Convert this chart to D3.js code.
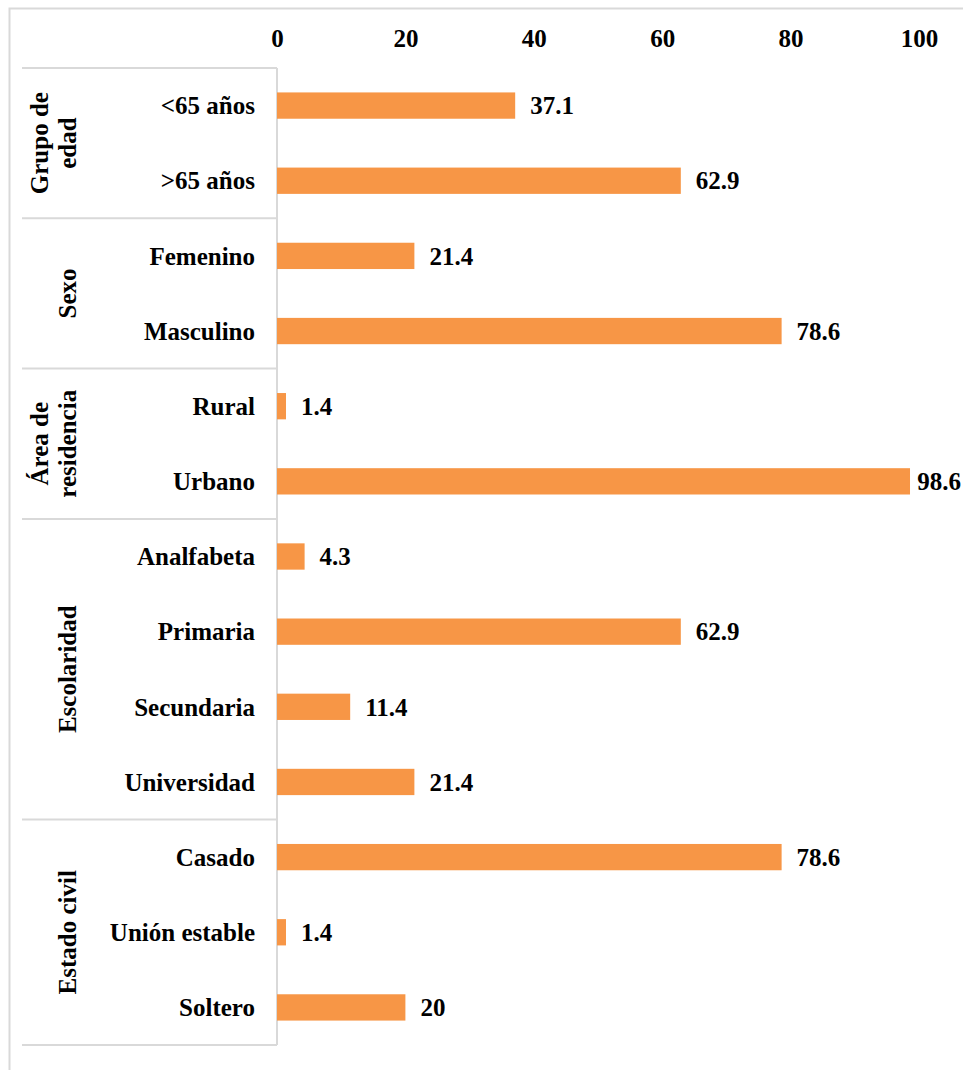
<!DOCTYPE html>
<html>
<head>
<meta charset="utf-8">
<script src="https://cdn.jsdelivr.net/npm/d3@7"></script>
<style>
  html, body { margin: 0; padding: 0; background: #fff; }
  svg { display: block; }
  text { font-family: "Liberation Serif", "Times New Roman", serif; font-weight: bold; fill: #000; }
</style>
</head>
<body>
<svg id="chart" width="966" height="1070"></svg>
<script>
// ---- data ----
const categories = ["<65 años", ">65 años", "Femenino", "Masculino", "Rural", "Urbano",
  "Analfabeta", "Primaria", "Secundaria", "Universidad", "Casado", "Unión estable", "Soltero"];
const values = [37.1, 62.9, 21.4, 78.6, 1.4, 98.6, 4.3, 62.9, 11.4, 21.4, 78.6, 1.4, 20];
const groupLabels = [["Grupo de", "edad"], ["Sexo"], ["Área de", "residencia"], ["Escolaridad"], ["Estado civil"]];
const groupSizes = [2, 2, 2, 4, 3];
const xTicks = [0, 20, 40, 60, 80, 100];

// ---- layout ----
const W = 966, H = 1070;
const plotLeft = 277, plotRight = 919, plotTop = 68, plotBottom = 1045;
const sepLeft = 22;
const gridColor = "#d9d9d9";
const barColor = "#F79646";
const fontSize = 25;

const svg = d3.select("#chart");

const x = d3.scaleLinear().domain([0, 100]).range([plotLeft, plotRight]);
const y = d3.scaleBand().domain(categories).range([plotTop, plotBottom])
  .paddingInner(0.65).paddingOuter(0.325);
const step = y.step();

// outer frame (cropped)
svg.append("path")
  .attr("d", `M9.5,1070 V8.5 H963`)
  .attr("fill", "none").attr("stroke", gridColor).attr("stroke-width", 2);

// group separators
let starts = [0];
groupSizes.forEach((s, i) => starts.push(starts[i] + s));
const boundaryY = starts.map(k => plotTop + k * step);
svg.append("g").selectAll("line").data(boundaryY).join("line")
  .attr("x1", sepLeft).attr("x2", plotLeft)
  .attr("y1", d => d).attr("y2", d => d)
  .attr("stroke", gridColor).attr("stroke-width", 2);

// vertical axis line
svg.append("line")
  .attr("x1", plotLeft).attr("x2", plotLeft)
  .attr("y1", plotTop).attr("y2", plotBottom)
  .attr("stroke", gridColor).attr("stroke-width", 2);

// top axis
const axis = d3.axisTop(x).tickValues(xTicks).tickSize(0).tickPadding(21);
const gAxis = svg.append("g").attr("transform", `translate(0,${plotTop})`).call(axis);
gAxis.select(".domain").remove();
gAxis.selectAll("text")
  .style("font-family", '"Liberation Serif", serif')
  .style("font-weight", "bold")
  .style("font-size", fontSize + "px")
  .attr("fill", "#000");

// bars
svg.append("g").selectAll("rect").data(categories).join("rect")
  .attr("x", x(0))
  .attr("y", d => y(d))
  .attr("width", (d, i) => x(values[i]) - x(0))
  .attr("height", y.bandwidth())
  .attr("fill", barColor);

// category labels
svg.append("g").selectAll("text").data(categories).join("text")
  .attr("x", 255)
  .attr("y", d => y(d) + y.bandwidth() / 2)
  .attr("dy", "0.35em")
  .attr("text-anchor", "end")
  .style("font-size", fontSize + "px")
  .text(d => d);

// value labels
const vl = svg.append("g").selectAll("text").data(categories).join("text")
  .attr("y", d => y(d) + y.bandwidth() / 2)
  .attr("dy", "0.35em")
  .style("font-size", fontSize + "px")
  .text((d, i) => String(values[i]));
vl.each(function(d, i) {
  const w = this.getComputedTextLength();
  const px = Math.min(x(values[i]) + 15, 961 - w);
  d3.select(this).attr("x", Math.max(px, x(values[i]) + 2));
});

// group labels (rotated)
const lineGap = 28, lastBaseline = 76;
groupLabels.forEach((lines, gi) => {
  const yc = (boundaryY[gi] + boundaryY[gi + 1]) / 2;
  const x0 = lastBaseline - lineGap * (lines.length - 1);
  const t = svg.append("text")
    .attr("transform", `translate(${x0},${yc}) rotate(-90)`)
    .attr("text-anchor", "middle")
    .style("font-size", fontSize + "px");
  lines.forEach((ln, li) => {
    t.append("tspan").attr("x", 0).attr("y", li * lineGap).text(ln);
  });
});
</script>
</body>
</html>
